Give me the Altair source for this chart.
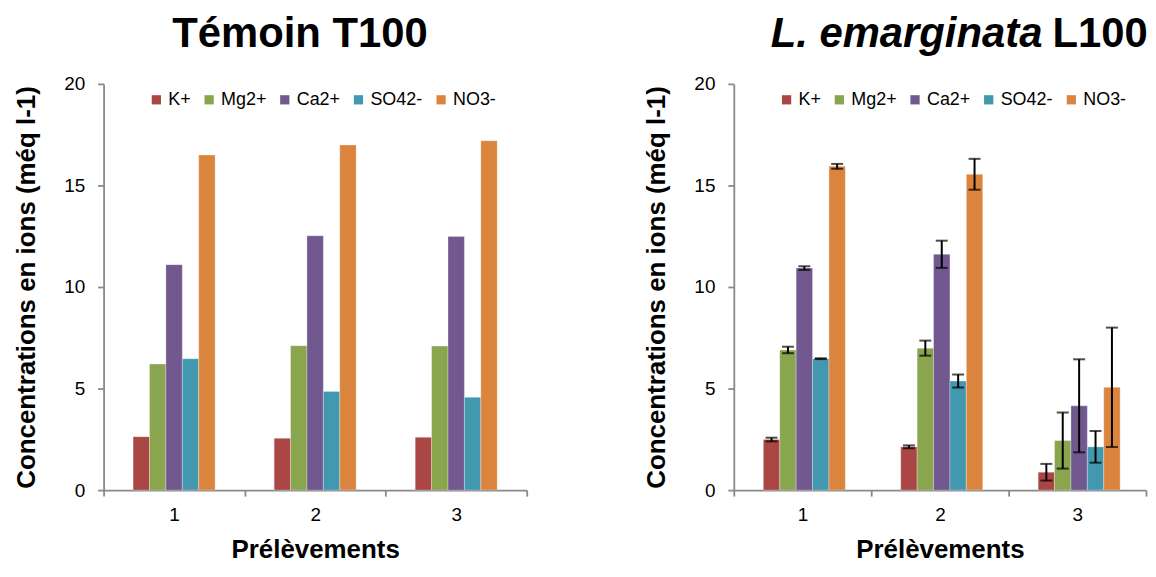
import altair as alt
import pandas as pd

FONT = "Liberation Sans"

prelevements = ["1", "2", "3"]
ions = ["K+", "Mg2+", "Ca2+", "SO42-", "NO3-"]
colors = ["#AA4643", "#89A54E", "#71588F", "#4198AF", "#DB843D"]
# empty slots either side of each group of bars (gap between groups)
offset_slots = ["_gap_a"] + ions + ["_gap_b"]

# Témoin T100 (means)
t100_K = [2.63, 2.55, 2.60]
t100_Mg = [6.21, 7.11, 7.09]
t100_Ca = [11.10, 12.52, 12.49]
t100_SO4 = [6.47, 4.86, 4.57]
t100_NO3 = [16.50, 16.99, 17.20]

# L. emarginata L100 (means and errors)
l100_K = [2.49, 2.13, 0.88]
l100_Mg = [6.90, 6.99, 2.44]
l100_Ca = [10.93, 11.61, 4.15]
l100_SO4 = [6.47, 5.37, 2.13]
l100_NO3 = [15.94, 15.55, 5.06]

l100_K_err = [0.09, 0.07, 0.41]
l100_Mg_err = [0.16, 0.37, 1.38]
l100_Ca_err = [0.09, 0.67, 2.29]
l100_SO4_err = [0.02, 0.32, 0.78]
l100_NO3_err = [0.12, 0.76, 2.94]


def build(series, errs=None):
    rows = []
    for k, ion in enumerate(ions):
        for i, p in enumerate(prelevements):
            v = series[k][i]
            e = errs[k][i] if errs else 0.0
            rows.append({"prel": p, "ion": ion, "value": v, "lo": v - e, "hi": v + e})
    return pd.DataFrame(rows)


df_t = build([t100_K, t100_Mg, t100_Ca, t100_SO4, t100_NO3])
df_l = build([l100_K, l100_Mg, l100_Ca, l100_SO4, l100_NO3],
             [l100_K_err, l100_Mg_err, l100_Ca_err, l100_SO4_err, l100_NO3_err])

Y_TITLE = "Concentrations en ions (méq l-1)"


def enc_x():
    return alt.X(
        "prel:N",
        sort=prelevements,
        scale=alt.Scale(paddingInner=0, paddingOuter=0),
        axis=alt.Axis(
            title="Prélèvements", labelAngle=0, tickBand="extent",
            tickSize=6, labelPadding=10, titlePadding=12,
        ),
    )


def enc_xo():
    return alt.XOffset("ion:N",
                       scale=alt.Scale(domain=offset_slots, paddingInner=0, paddingOuter=0.8))


def enc_y(field="value"):
    return alt.Y(
        f"{field}:Q",
        scale=alt.Scale(domain=[0, 20]),
        axis=alt.Axis(title=Y_TITLE, values=[0, 5, 10, 15, 20], grid=False,
                      tickSize=6, labelPadding=13, titlePadding=24),
    )


def panel(df, with_err):
    base = alt.Chart(df)
    bars = base.mark_bar(stroke="white", strokeWidth=0.6, strokeOpacity=0.5).encode(
        x=enc_x(),
        xOffset=enc_xo(),
        y=enc_y(),
        color=alt.Color(
            "ion:N", sort=ions,
            scale=alt.Scale(domain=ions, range=colors),
            legend=alt.Legend(
                title=None, orient="none", legendX=44, legendY=7,
                direction="horizontal", columns=5, symbolType="square",
                symbolSize=86, symbolStrokeWidth=0, labelFontSize=18,
                labelFont=FONT, labelColor="black", columnPadding=9,
                labelOffset=3, padding=0,
            ),
        ),
    )
    layers = [bars]
    if with_err:
        rule = base.mark_rule(color="black", strokeWidth=2).encode(
            x=enc_x(), xOffset=enc_xo(), y=enc_y("lo"), y2="hi:Q")
        cap_lo = base.mark_tick(color="black", size=12, thickness=2).encode(
            x=enc_x(), xOffset=enc_xo(), y=enc_y("lo"))
        cap_hi = base.mark_tick(color="black", size=12, thickness=2).encode(
            x=enc_x(), xOffset=enc_xo(), y=enc_y("hi"))
        layers += [rule, cap_lo, cap_hi]
    return layers


one = alt.Data(values=[{}])
TITLE_Y = -37

title_t = alt.Chart(one).mark_text(
    font=FONT, fontSize=42, fontWeight="bold", align="left", baseline="alphabetic", color="black"
).encode(x=alt.value(69), y=alt.value(TITLE_Y), text=alt.value("Témoin T100"))

title_l1 = alt.Chart(one).mark_text(
    font=FONT, fontSize=42, fontWeight="bold", fontStyle="italic", align="left",
    baseline="alphabetic", color="black"
).encode(x=alt.value(37), y=alt.value(TITLE_Y), text=alt.value("L. emarginata"))

title_l2 = alt.Chart(one).mark_text(
    font=FONT, fontSize=42, fontWeight="bold", align="left", baseline="alphabetic", color="black"
).encode(x=alt.value(320), y=alt.value(TITLE_Y), text=alt.value("L100"))

left = alt.layer(*panel(df_t, False), title_t).properties(width=425, height=408)
right = alt.layer(*panel(df_l, True), title_l1, title_l2).properties(width=414, height=408)

chart = (
    alt.hconcat(left, right, spacing=116)
    .resolve_scale(color="independent")
    .resolve_legend(color="independent")
    .properties(padding={"left": 5, "top": 4, "right": 0, "bottom": 0})
    .configure_view(stroke=None)
    .configure_axis(
        domainColor="#898989", domainWidth=1.8, tickColor="#898989", tickWidth=1.8,
        labelColor="black", labelFont=FONT, labelFontSize=19,
        titleColor="black", titleFont=FONT, titleFontSize=26, titleFontWeight="bold",
    )
)

chart.save("out.html", embed_options={"renderer": "svg", "actions": False})
